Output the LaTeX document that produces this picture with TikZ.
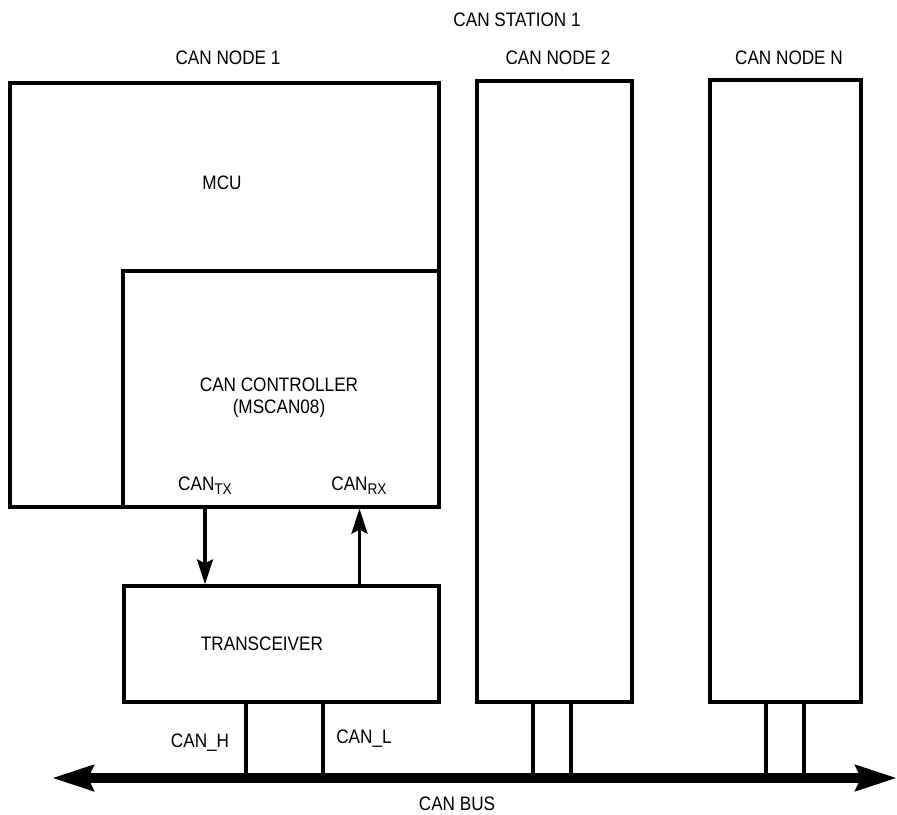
\documentclass[tikz,border=0pt]{standalone}
\usepackage{fontspec}
\setmainfont{Liberation Sans}[FakeStretch=0.88]
\usetikzlibrary{arrows.meta}
\newcommand{\sbx}[1]{\raisebox{-4.5pt}{\fontsize{15.5}{17}\selectfont #1}}
\begin{document}
\begin{tikzpicture}[x=1pt,y=-1pt,
  box/.style={draw,line width=3.3pt,rectangle,inner sep=0pt},
  lbl/.style={inner sep=0pt,anchor=base,font=\fontsize{19.5}{22}\selectfont},
  sig/.style={line width=3.3pt,-{Stealth[length=25pt,width=16pt,inset=4pt]}},
  stub/.style={line width=3.3pt},
  bus/.style={line width=10pt,{Stealth[length=41pt,width=25pt,inset=5pt]}-{Stealth[length=41pt,width=25pt,inset=5pt]}}]
\useasboundingbox (0,0) rectangle (897,814);
% boxes
\node[box,minimum width=429pt,minimum height=424pt] (mcu) at (224.5,295) {};
\node[box,minimum width=316pt,minimum height=236pt] (ctrl) at (281,389) {};
\node[box,minimum width=155pt,minimum height=621pt] (node2) at (554.5,391.5) {};
\node[box,minimum width=151pt,minimum height=622pt] (nodeN) at (785.5,391) {};
\node[box,minimum width=315pt,minimum height=116pt] (trans) at (281.5,644) {};
% labels
\node[lbl] (station) at (517,26) {CAN STATION 1};
\node[lbl] (l1) at (228,64) {CAN NODE 1};
\node[lbl] (l2) at (558,64) {CAN NODE 2};
\node[lbl] (lN) at (789,64) {CAN NODE N};
\node[lbl] (mcut) at (222,189) {MCU};
\node[lbl] (ctrlt) at (279,391) {CAN CONTROLLER};
\node[lbl] (msc) at (279,413) {(MSCAN08)};
\node[lbl] (tx) at (205,490) {CAN\sbx{TX}};
\node[lbl] (rx) at (359,490) {CAN\sbx{RX}};
\node[lbl] (transt) at (262,650) {TRANSCEIVER};
\node[lbl] (canh) at (200,747) {CAN\_H};
\node[lbl] (canl) at (364,743) {CAN\_L};
\node[lbl] (bust) at (457,810) {CAN BUS};
% bus
\coordinate (busL) at (52,778);
\coordinate (busR) at (897,778);
% signals
\draw[sig] ([xshift=-76pt]ctrl.south) -- ([xshift=-76pt]ctrl.south |- trans.north);
\draw[sig] ([xshift=78pt]trans.north) -- ([xshift=78pt]trans.north |- ctrl.south);
% stubs
\draw[stub] ([xshift=-35.5pt]trans.south) -- ([xshift=-35.5pt]trans.south |- busL);
\draw[stub] ([xshift=41.5pt]trans.south) -- ([xshift=41.5pt]trans.south |- busL);
\draw[stub] ([xshift=-21.5pt]node2.south) -- ([xshift=-21.5pt]node2.south |- busL);
\draw[stub] ([xshift=16.5pt]node2.south) -- ([xshift=16.5pt]node2.south |- busL);
\draw[stub] ([xshift=-19.5pt]nodeN.south) -- ([xshift=-19.5pt]nodeN.south |- busL);
\draw[stub] ([xshift=18.5pt]nodeN.south) -- ([xshift=18.5pt]nodeN.south |- busL);
\draw[bus] (busL) -- (busR);
\end{tikzpicture}
\end{document}
